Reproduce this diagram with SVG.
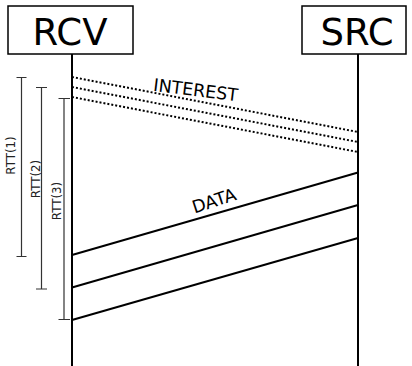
<svg xmlns="http://www.w3.org/2000/svg" width="412" height="366" viewBox="0 0 412 366">
<style>
.box{fill:#fff;stroke:#000;stroke-width:1.5}
.big{font-family:"DejaVu Sans",sans-serif;font-size:37px;fill:#000;text-anchor:middle}
.life{stroke:#000;stroke-width:2;fill:none}
.int{stroke:#000;stroke-width:2;stroke-dasharray:2,2;fill:none}
.dat{stroke:#000;stroke-width:2;fill:none}
.lbl{font-family:"DejaVu Sans",sans-serif;font-size:17.5px;fill:#000;text-anchor:middle}
.rtt{stroke:#333;stroke-width:1.2;fill:none}
.rttl{font-family:"DejaVu Sans",sans-serif;font-size:11.8px;fill:#222;text-anchor:middle}
</style>
<g id="RCV">
<rect class="box" x="8" y="6" width="125" height="48"/>
<text class="big" x="70" y="45">RCV</text>
<line class="life" x1="72" y1="54" x2="72" y2="366"/>
</g>
<g id="SRC">
<rect class="box" x="302" y="6" width="104" height="48"/>
<text class="big" x="357" y="45">SRC</text>
<line class="life" x1="358" y1="54" x2="358" y2="366"/>
</g>
<g id="connectors">
<line class="int" x1="72" y1="77" x2="358" y2="132"/>
<line class="int" x1="72" y1="87" x2="358" y2="142"/>
<line class="int" x1="72" y1="97" x2="358" y2="152"/>
<text class="lbl" x="195" y="96" transform="rotate(7 195 96)">INTEREST</text>
<line class="dat" x1="72" y1="255" x2="358" y2="172.5"/>
<line class="dat" x1="72" y1="287.5" x2="358" y2="205"/>
<line class="dat" x1="72" y1="320" x2="358" y2="238"/>
<text class="lbl" x="216" y="206.5" transform="rotate(-18 216 206.5)">DATA</text>
</g>
<g id="RTT1">
<path class="rtt" d="M21.5 77.5V256.5M16.5 77.5H26.5M16.5 256.5H26.5"/>
<text class="rttl" x="15" y="155.5" transform="rotate(-90 15 155.5)">RTT(1)</text>
</g>
<g id="RTT2">
<path class="rtt" d="M41.5 87.5V289M36 87.5H47M36 289H47"/>
<text class="rttl" x="39.5" y="179" transform="rotate(-90 39.5 179)">RTT(2)</text>
</g>
<g id="RTT3">
<path class="rtt" d="M64 98.5V319.5M58.5 98.5H70M58.5 319.5H70"/>
<text class="rttl" x="61" y="201" transform="rotate(-90 61 201)">RTT(3)</text>
</g>
</svg>
